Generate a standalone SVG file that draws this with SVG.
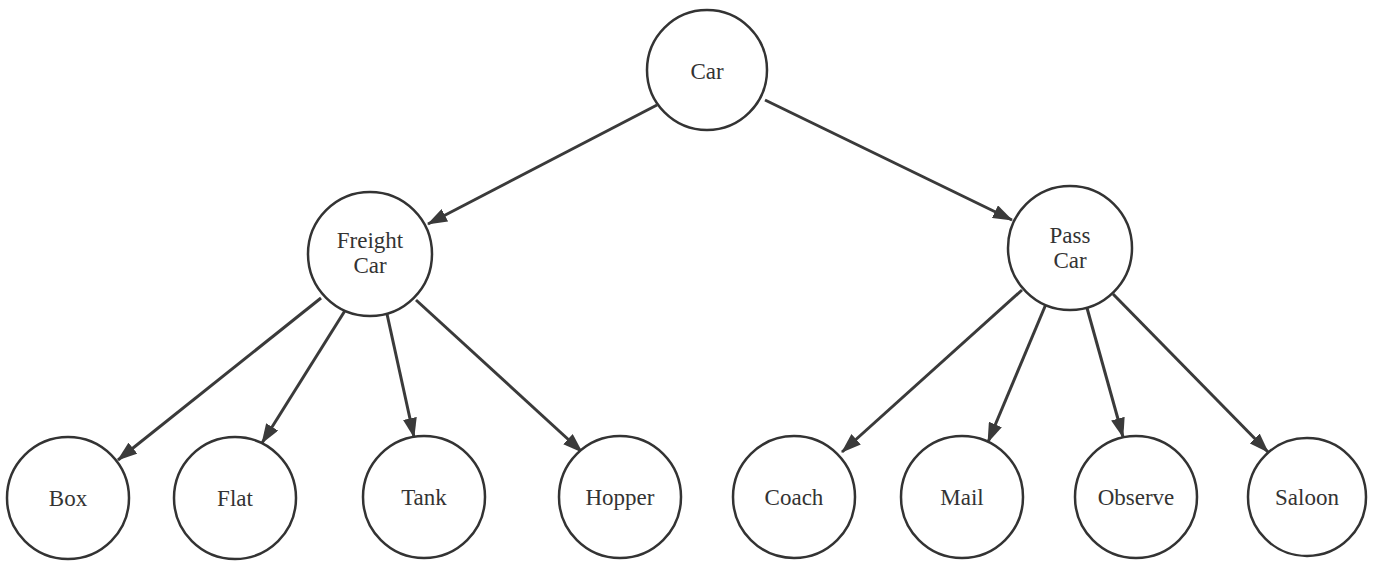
<svg xmlns="http://www.w3.org/2000/svg" width="1375" height="561" viewBox="0 0 1375 561">
<style>
.node circle{fill:#fff;stroke:#333;stroke-width:2.5}
.node text{font-family:"Liberation Serif","Times New Roman",serif;font-size:23px;fill:#333;text-anchor:middle}
.edges line{stroke:#3a3a3a;stroke-width:3;marker-end:url(#ah)}
</style>
<defs>
<marker id="ah" markerUnits="userSpaceOnUse" viewBox="0 0 20 14" refX="19" refY="7" markerWidth="20" markerHeight="14" orient="auto">
<path d="M0,0 L20,7 L0,14 z" fill="#3a3a3a"/>
</marker>
</defs>
<rect width="1375" height="561" fill="#fff"/>
<g class="edges">
<line x1="657" y1="105" x2="428" y2="224"/>
<line x1="765" y1="100" x2="1012" y2="220"/>
<line x1="321" y1="298" x2="118" y2="460"/>
<line x1="346" y1="309" x2="262" y2="443"/>
<line x1="387" y1="314" x2="414" y2="437"/>
<line x1="416" y1="300" x2="582" y2="452"/>
<line x1="1022" y1="290" x2="842" y2="452"/>
<line x1="1046" y1="304" x2="988" y2="442"/>
<line x1="1087" y1="308" x2="1123" y2="437"/>
<line x1="1113" y1="294" x2="1268" y2="452"/>
</g>
<g id="car" class="node"><circle cx="707" cy="70" r="60"/><text x="707" y="79">Car</text></g>
<g id="freight" class="node"><circle cx="370" cy="254" r="62"/><text x="370" y="248">Freight</text><text x="370" y="273">Car</text></g>
<g id="pass" class="node"><circle cx="1070" cy="248" r="62"/><text x="1070" y="243">Pass</text><text x="1070" y="268">Car</text></g>
<g id="box" class="node"><circle cx="68" cy="498" r="61"/><text x="68" y="506">Box</text></g>
<g id="flat" class="node"><circle cx="235" cy="498" r="61"/><text x="235" y="506">Flat</text></g>
<g id="tank" class="node"><circle cx="424" cy="497" r="61"/><text x="424" y="505">Tank</text></g>
<g id="hopper" class="node"><circle cx="620" cy="497" r="61"/><text x="620" y="505">Hopper</text></g>
<g id="coach" class="node"><circle cx="794" cy="497" r="61"/><text x="794" y="505">Coach</text></g>
<g id="mail" class="node"><circle cx="962" cy="497" r="61"/><text x="962" y="505">Mail</text></g>
<g id="observe" class="node"><circle cx="1136" cy="497" r="61"/><text x="1136" y="505">Observe</text></g>
<g id="saloon" class="node"><circle cx="1307" cy="497" r="59"/><text x="1307" y="505">Saloon</text></g>
</svg>
